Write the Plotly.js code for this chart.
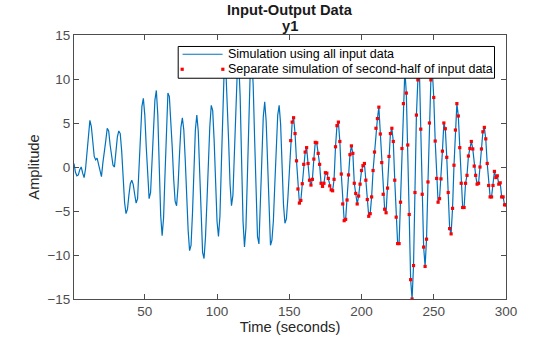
<!DOCTYPE html>
<html><head><meta charset="utf-8">
<script src="https://cdn.plot.ly/plotly-3.0.1.min.js"></script>
<style>html,body{margin:0;padding:0;background:#fff;} #chart{width:560px;height:337px;}</style>
</head><body><div id="chart"></div>
<script>
// Simulated output using all input data, t = 1..300 s
const simAllInputs = [
0.4,-0.6,-1.0,-0.9,-0.3,0.0,-0.7,-1.2,-0.2,2.0,
4.2,5.3,4.6,2.8,1.2,0.8,1.0,0.3,-0.6,-1.1,
0.5,1.5,3.0,4.4,4.1,2.5,1.0,0.2,0.0,1.5,
3.4,4.1,3.8,1.8,-1.2,-4.0,-5.3,-4.8,-3.2,-1.9,
-1.5,-2.0,-3.1,-4.1,-3.6,-0.3,3.8,6.9,7.8,5.9,
2.3,-1.4,-3.6,-2.9,0.1,4.2,7.6,8.7,5.9,0.1,
-5.5,-7.8,-5.8,-0.8,4.7,8.4,8.0,5.7,2.2,-1.4,
-3.9,-4.4,-2.2,1.4,4.5,5.6,4.2,0.8,-3.5,-7.2,
-9.5,-8.9,-5.3,-0.2,4.2,5.9,4.1,-0.6,-6.0,-9.7,
-10.4,-8.0,-4.0,0.6,4.6,7.0,6.4,3.0,-2.0,-6.2,
-7.9,-5.6,0.3,7.0,11.4,11.5,8.1,3.0,-1.9,-4.4,
-3.2,1.0,6.6,10.8,12.0,8.0,0.7,-6.2,-9.1,-6.9,
-1.1,5.8,11.0,12.5,9.4,3.3,-3.4,-7.9,-8.75,-4.8,
0.8,5.7,7.4,5.2,0.35,-5.0,-8.9,-8.3,-6.1,-1.9,
2.6,5.9,7.0,4.9,0.3,-4.3,-6.4,-5.9,-3.6,-0.4,
3.0,5.1,5.6,3.8,0.7,-2.5,-4.1,-3.8,-1.9,0.3,
1.7,2.2,0.4,-1.5,-2.05,-1.4,0.9,2.8,2.75,1.55,
0.3,-1.85,-2.2,-1.85,-0.65,-0.7,-1.3,-2.15,-2.6,-2.7,
-1.4,2.3,4.7,5.1,2.9,-0.8,-4.2,-6.1,-5.95,-3.75,
-0.9,1.4,2.4,1.55,-1.85,-3.0,-4.2,-3.3,-1.95,-0.4,
0.15,0.4,-1.5,-3.7,-5.6,-5.3,-3.4,-0.4,1.7,4.4,
5.5,6.8,3.75,0.5,-3.1,-4.8,-5.2,-2.4,1.2,3.8,
4.4,2.9,-1.5,-5.7,-8.7,-8.7,-4.0,2.1,7.2,11.0,
8.4,2.5,-5.4,-12.8,-15.0,-11.2,-2.9,5.9,9.9,11.5,
4.3,-3.1,-9.1,-11.3,-8.2,-1.7,5.0,9.9,11.0,7.9,
2.95,-1.3,-4.0,-3.6,-1.35,1.8,5.0,4.35,1.1,-2.9,
-7.0,-7.6,-4.7,0.2,4.2,7.2,5.8,2.2,-1.85,-4.6,
-4.6,-1.85,-0.95,1.25,2.1,2.9,2.05,0.1,-0.95,-1.95,
-1.85,0.0,2.05,4.0,4.5,3.2,0.4,-2.1,-3.4,-3.4,
-2.1,-0.5,-1.2,-1.0,-1.95,-1.8,-3.4,-3.4,-4.3,-4.3
];
// Separate simulation of the second half, t = 151..300 s
const simSecondHalf = [
3.0,5.1,5.6,3.8,0.7,-2.5,-4.1,-3.8,-1.9,0.3,
1.7,2.2,0.4,-1.5,-2.05,-1.4,0.9,2.8,2.75,1.55,
0.3,-1.85,-2.2,-1.85,-0.65,-0.7,-1.3,-2.15,-2.6,-2.7,
-1.4,2.3,4.7,5.1,2.9,-0.8,-4.2,-6.1,-5.95,-3.75,
-0.9,1.4,2.4,1.55,-1.85,-3.0,-4.2,-3.3,-1.95,-0.4,
0.15,0.4,-1.5,-3.7,-5.6,-5.3,-3.4,-0.4,1.7,4.4,
5.5,6.8,3.75,0.5,-3.1,-4.8,-5.2,-2.4,1.2,3.8,
4.4,2.9,-1.5,-5.7,-8.7,-8.7,-4.0,2.1,7.2,11.0,
8.4,2.5,-5.4,-12.8,-15.0,-11.2,-2.9,5.9,9.9,11.5,
4.3,-3.1,-9.1,-11.3,-8.2,-1.7,5.0,9.9,11.0,7.9,
2.95,-1.3,-4.0,-3.6,-1.35,1.8,5.0,4.35,1.1,-2.9,
-7.0,-7.6,-4.7,0.2,4.2,7.2,5.8,2.2,-1.85,-4.6,
-4.6,-1.85,-0.95,1.25,2.1,2.9,2.05,0.1,-0.95,-1.95,
-1.85,0.0,2.05,4.0,4.5,3.2,0.4,-2.1,-3.4,-3.4,
-2.1,-0.5,-1.2,-1.0,-1.95,-1.8,-3.4,-3.4,-4.3,-4.3
];
const startAll = 1;
const startHalf = 151;
const sampleTime = 1;
const xRange = [1, 300];
const yRange = [-15, 15];
const xTicks = [50, 100, 150, 200, 250, 300];
const yTicks = [-15, -10, -5, 0, 5, 10, 15];
const titleMain = 'Input-Output Data';
const titleSub = 'y1';
const xLabel = 'Time (seconds)';
const yLabel = 'Amplitude';
const legendLabels = ['Simulation using all input data', 'Separate simulation of second-half of input data'];

const FONT = 'Liberation Sans, Arial, Helvetica, sans-serif';
const AX = '#4d4d4d';
const BLUE = '#0072BD';
const RED = '#ff0000';

const traces = [
  {type:'scatter', mode:'lines', y: simAllInputs, x0: startAll, dx: sampleTime,
   line:{color: BLUE, width: 1.2}, name: legendLabels[0], showlegend:false},
  {type:'scatter', mode:'markers', y: simSecondHalf, x0: startHalf, dx: sampleTime,
   marker:{symbol:'square', size:3.2, color: RED, line:{width:0}}, name: legendLabels[1], showlegend:false}
];

const axisCommon = {
  showline:true, linecolor:AX, linewidth:1, mirror:'ticks',
  ticks:'inside', ticklen:5, tickwidth:1, tickcolor:AX,
  showgrid:false, zeroline:false, automargin:false,
  tickfont:{family:FONT, size:13.5, color:AX}
};

const legendShapes = [
  {type:'rect', xref:'paper', yref:'paper', x0:0.2412, x1:0.9734, y0:0.8362, y1:0.9565,
   line:{color:'#000', width:1}, fillcolor:'#fff', layer:'above'},
  {type:'line', xref:'paper', yref:'paper', x0:0.2513, x1:0.3439, y0:0.927, y1:0.927,
   line:{color:BLUE, width:1.2}},
  {type:'rect', xref:'paper', yref:'paper', xsizemode:'pixel', ysizemode:'pixel',
   xanchor:0.2504, yanchor:0.8702, x0:-1.6, x1:1.6, y0:-1.6, y1:1.6, line:{width:0}, fillcolor:RED},
  {type:'rect', xref:'paper', yref:'paper', xsizemode:'pixel', ysizemode:'pixel',
   xanchor:0.3445, yanchor:0.8702, x0:-1.6, x1:1.6, y0:-1.6, y1:1.6, line:{width:0}, fillcolor:RED}
];
const textNotes = [
  {xref:'paper', yref:'paper', x:0.3526, y:0.927, xanchor:'left', yanchor:'middle', showarrow:false,
   text: legendLabels[0], font:{family:FONT, size:12.5, color:'#000'}},
  {xref:'paper', yref:'paper', x:0.3526, y:0.8702, xanchor:'left', yanchor:'middle', showarrow:false,
   text: legendLabels[1], font:{family:FONT, size:12.5, color:'#000'}},
  {xref:'paper', yref:'paper', x:0.5, y:1.0946, xanchor:'center', yanchor:'middle', showarrow:false,
   text:'<b>'+titleMain+'</b>', font:{family:FONT, size:14.7, color:'#1a1a1a'}},
  {xref:'paper', yref:'paper', x:0.5, y:1.0344, xanchor:'center', yanchor:'middle', showarrow:false,
   text:'<b>'+titleSub+'</b>', font:{family:FONT, size:14.7, color:'#1a1a1a'}}
];

const layout = {
  width:560, height:337,
  margin:{l:74, r:53.5, t:35, b:37.7, pad:0},
  paper_bgcolor:'#fff', plot_bgcolor:'#fff',
  font:{family:FONT, color:'#262626'},
  showlegend:false,
  xaxis: Object.assign({}, axisCommon, {range:xRange, tickvals:xTicks,
    title:{text:xLabel, standoff:0, font:{family:FONT, size:14.7, color:'#262626'}}}),
  yaxis: Object.assign({}, axisCommon, {range:yRange, tickvals:yTicks,
    title:{text:yLabel, standoff:4, font:{family:FONT, size:14.7, color:'#262626'}}}),
  shapes: legendShapes,
  annotations: textNotes
};

Plotly.newPlot('chart', traces, layout, {staticPlot:true, displayModeBar:false});
</script>
</body></html>
